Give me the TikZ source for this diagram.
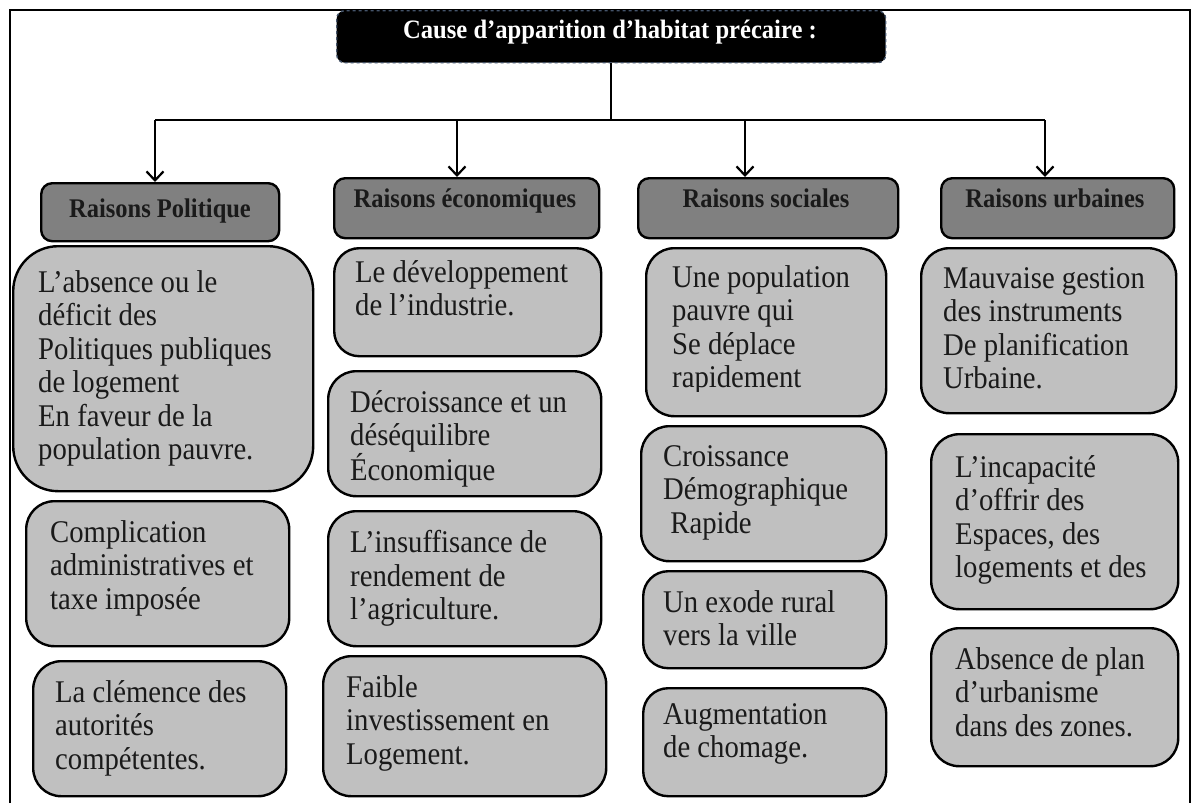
\documentclass[tikz,border=0pt]{standalone}
\usepackage{fontspec}
\setmainfont{Liberation Serif}
\usetikzlibrary{arrows.meta}
\definecolor{headgray}{HTML}{808080}
\definecolor{bodygray}{HTML}{C0C0C0}
\definecolor{titleborder}{HTML}{44546A}
\definecolor{txtcol}{HTML}{1A1A1A}
\tikzset{
  frameline/.style={line width=2.6pt},
  titlebox/.style={fill=black, draw=titleborder, dashed, line width=1.4pt, rounded corners=8pt, anchor=north west},
  headbox/.style={draw=black, fill=headgray, line width=2.4pt, rounded corners=11pt, anchor=north west},
  bodybox/.style={draw=black, fill=bodygray, line width=2.4pt, rounded corners=28pt, anchor=north west},
  bodytext/.style={anchor=north west, inner sep=0pt, align=left, text=txtcol, yscale=1.1, transform shape, font=\fontsize{28.7}{30.5}\selectfont},
  headtext/.style={inner sep=0pt, text=txtcol, yscale=1.1, transform shape, font=\bfseries\fontsize{24.5}{28}\selectfont},
  titletext/.style={inner sep=0pt, text=white, yscale=1.08, transform shape, font=\bfseries\fontsize{24.6}{28}\selectfont},
  conn/.style={line width=2.2pt},
  arr/.style={conn, -{Straight Barb[length=9pt,width=17pt,line width=2.2pt]}},
}
\begin{document}
\begin{tikzpicture}[x=1pt,y=-1pt]
\useasboundingbox (0,0) rectangle (1193,803);
\fill[white] (0,0) rectangle (1193,803);
% outer frame (open at the bottom)
\draw[frameline] (10,803) -- (10,10) -- (1190,10) -- (1190,803);

% title
\node[titlebox, minimum width=549pt, minimum height=52pt] (title) at (336,10) {};
\node[titletext] (titlet) at (610,32) {Cause d’apparition d’habitat précaire :};

% header boxes
\node[headbox, minimum width=238pt, minimum height=58pt] (h1) at (40,182) {};
\node[headbox, minimum width=265pt, minimum height=60pt] (h2) at (333,177) {};
\node[headbox, minimum width=260pt, minimum height=60pt] (h3) at (637,177) {};
\node[headbox, minimum width=233pt, minimum height=60pt] (h4) at (940,177) {};
\node[headtext] (h1t) at (160,211) {Raisons Politique};
\node[headtext] (h2t) at (465,201) {Raisons économiques};
\node[headtext] (h3t) at (766,198) {Raisons sociales};
\node[headtext] (h4t) at (1055,198) {Raisons urbaines};

% connectors
\coordinate (a1) at (155,120);
\coordinate (a2) at (457,120);
\coordinate (a3) at (745,120);
\coordinate (a4) at (1045,120);
\draw[conn] (title.south) -- (title.south |- a1);
\draw[conn] (a1) -- (a4);
\draw[arr] (a1) -- (a1 |- h1.north);
\draw[arr] (a2) -- (a2 |- h2.north);
\draw[arr] (a3) -- (a3 |- h3.north);
\draw[arr] (a4) -- (a4 |- h4.north);

% column 1
\node[bodybox, rounded corners=45pt, minimum width=300pt, minimum height=245pt] (b11) at (12,245) {};
\node[bodybox, minimum width=263pt, minimum height=145pt] (b12) at (25,500) {};
\node[bodybox, minimum width=253pt, minimum height=135pt] (b13) at (32,660) {};
\node[bodytext] (t11) at (38,270) {L’absence ou le\\déficit des\\Politiques publiques\\de logement\\En faveur de la\\population pauvre.};
\node[bodytext] (t12) at (50,520) {Complication\\administratives et\\taxe imposée};
\node[bodytext] (t13) at (55,680) {La clémence des\\autorités\\compétentes.};

% column 2
\node[bodybox, rounded corners=25pt, minimum width=267pt, minimum height=108pt] (b21) at (333,247) {};
\node[bodybox, minimum width=273pt, minimum height=125pt] (b22) at (327,370) {};
\node[bodybox, minimum width=273pt, minimum height=135pt] (b23) at (327,510) {};
\node[bodybox, minimum width=283pt, minimum height=140pt] (b24) at (322,655) {};
\node[bodytext] (t21) at (355,260) {Le développement\\de l’industrie.};
\node[bodytext] (t22) at (350,390) {Décroissance et un\\déséquilibre\\Économique};
\node[bodytext] (t23) at (350,530) {L’insuffisance de\\rendement de\\l’agriculture.};
\node[bodytext] (t24) at (346,675) {Faible\\investissement en\\Logement.};

% column 3
\node[bodybox, minimum width=240pt, minimum height=168pt] (b31) at (645,247) {};
\node[bodybox, minimum width=245pt, minimum height=135pt] (b32) at (640,425) {};
\node[bodybox, rounded corners=25pt, minimum width=243pt, minimum height=97pt] (b33) at (642,570) {};
\node[bodybox, rounded corners=25pt, minimum width=243pt, minimum height=108pt] (b34) at (642,687) {};
\begin{scope}
\clip (645,250) rectangle (885,391);
\node[bodytext] (t31) at (672,265) {Une population\\pauvre qui\\Se déplace\\rapidement};
\end{scope}
\node[bodytext] (t32) at (663,445) {Croissance\\Démographique\\\ Rapide};
\node[bodytext] (t33) at (663,590) {Un exode rural\\vers la ville};
\node[bodytext] (t34) at (663,703) {Augmentation\\de chomage.};

% column 4
\node[bodybox, minimum width=255pt, minimum height=165pt] (b41) at (920,247) {};
\node[bodybox, minimum width=247pt, minimum height=175pt] (b42) at (930,433) {};
\node[bodybox, minimum width=247pt, minimum height=138pt] (b43) at (930,627) {};
\node[bodytext] (t41) at (943,267) {Mauvaise gestion\\des instruments\\De planification\\Urbaine.};
\node[bodytext] (t42) at (955,455) {L’incapacité\\d’offrir des\\Espaces, des\\logements et des};
\node[bodytext] (t43) at (955,647) {Absence de plan\\d’urbanisme\\dans des zones.};
\end{tikzpicture}
\end{document}
